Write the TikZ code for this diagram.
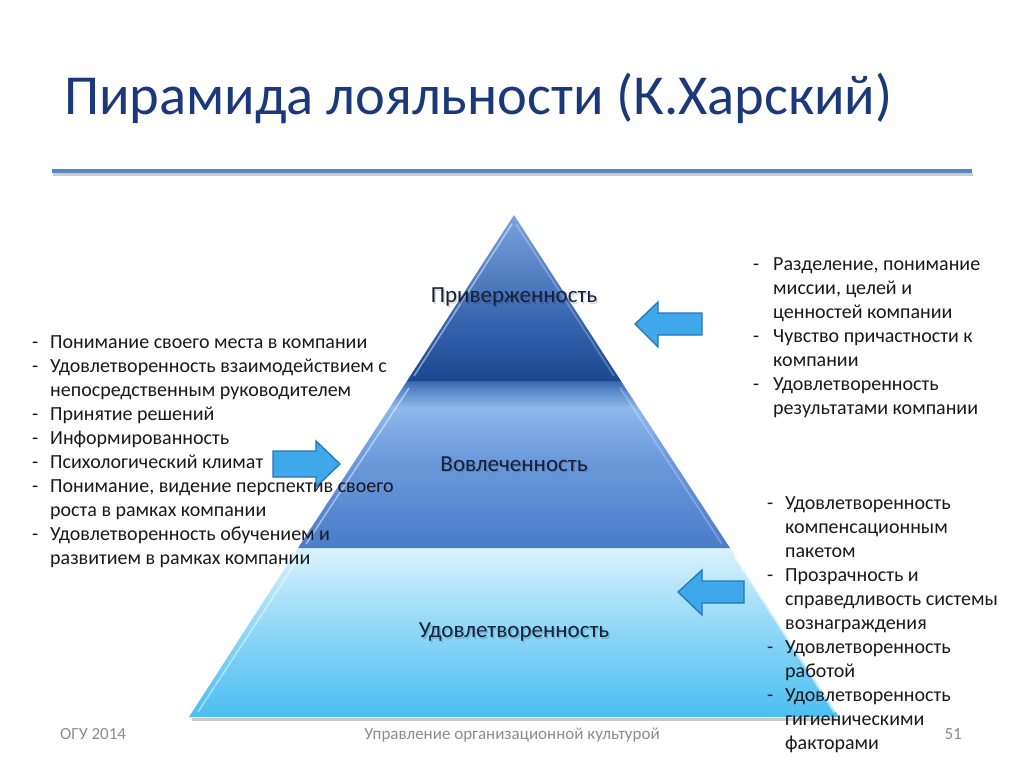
\documentclass[tikz,border=0pt]{standalone}
\usepackage{fontspec}
\setmainfont{Carlito}
\usetikzlibrary{calc}
\definecolor{titleblue}{RGB}{26,56,122}
\definecolor{txt}{RGB}{25,25,25}
\definecolor{lbl}{RGB}{22,32,58}
\definecolor{foot}{RGB}{140,140,140}
\definecolor{rule}{RGB}{88,136,190}
\definecolor{arrfill}{RGB}{62,168,234}
\definecolor{arrdraw}{RGB}{38,118,182}
\definecolor{ta}{RGB}{28,72,145}
\definecolor{tb}{RGB}{52,98,172}
\definecolor{tc}{RGB}{122,162,222}
\definecolor{ua}{RGB}{74,124,200}
\definecolor{ub}{RGB}{108,154,220}
\definecolor{uc}{RGB}{142,184,234}
\definecolor{ud}{RGB}{92,138,204}
\definecolor{ue}{RGB}{58,104,176}
\definecolor{va}{RGB}{76,190,242}
\definecolor{vb}{RGB}{140,214,246}
\definecolor{vc}{RGB}{218,242,252}
\pgfdeclareverticalshading{tierone}{100bp}{color(0bp)=(ta); color(25bp)=(ta); color(42bp)=(tb); color(75bp)=(tc); color(100bp)=(tc)}
\pgfdeclareverticalshading{tiertwo}{100bp}{color(0bp)=(ua); color(25bp)=(ua); color(52bp)=(ub); color(67bp)=(uc); color(72bp)=(ud); color(75bp)=(ue); color(100bp)=(ue)}
\pgfdeclareverticalshading{tierthree}{100bp}{color(0bp)=(va); color(25bp)=(va); color(50bp)=(vb); color(75bp)=(vc); color(100bp)=(vc)}
\tikzset{
  listtext/.style={inner sep=0pt, text=txt, font=\fontsize{20}{24}\selectfont},
  tierlabel/.style={inner sep=0pt, text=lbl, font=\fontsize{23}{27}\selectfont},
  tiershadow/.style={inner sep=0pt, text=black, opacity=.15, font=\fontsize{23}{27}\selectfont},
  footer/.style={inner sep=0pt, text=foot, font=\fontsize{17}{20}\selectfont},
  blockarrow/.style={fill=arrfill, draw=arrdraw, line width=1.3pt, line join=miter},
  glint/.style={draw=white, opacity=.45, line width=1.6pt}
}
\begin{document}
\begin{tikzpicture}[x=1pt,y=-1pt]
\useasboundingbox (0,0) rectangle (1024,768);
\fill[white] (0,0) rectangle (1024,768);
% title
\node[inner sep=0pt, anchor=base west, text=titleblue, font=\fontsize{56.5}{62}\selectfont] (title) at (64,114) {Пирамида лояльности (К.Харский)};
% rule
\draw[black!20, line width=3pt] (53,174) -- (973,174);
\draw[rule, line width=4pt] (52,171) -- (972,171);
% pyramid
\coordinate (apex) at (514,215);
\coordinate (l1) at (407,381);
\coordinate (r1) at (621,381);
\coordinate (l2) at (298,548);
\coordinate (r2) at (730,548);
\coordinate (l3) at (189,717);
\coordinate (r3) at (839,717);
\draw[black!35, line width=2.5pt, opacity=.6] (192,719.5) -- (836,719.5);
\shade[shading=tierthree] (l2) -- (r2) -- (r3) -- (l3) -- cycle;
\shade[shading=tiertwo] (l1) -- (r1) -- (r2) -- (l2) -- cycle;
\shade[shading=tierone] (apex) -- (r1) -- (l1) -- cycle;
\draw[glint] (512,224) -- (414,376);
\draw[glint] (409,388) -- (306,544);
\draw[glint] (300,556) -- (198,712);
\draw[glint, opacity=.6, line width=3pt] (735,556) -- (835,712);
\draw[glint, opacity=.25] (516,224) -- (614,376);
\draw[glint, opacity=.25] (620,388) -- (722,544);
% tier labels
\node[tiershadow] at (515.5,298.5) {Приверженность};
\node[tierlabel] (t1) at (514,297) {Приверженность};
\node[tiershadow] at (515.5,465.5) {Вовлеченность};
\node[tierlabel] (t2) at (514,464) {Вовлеченность};
\node[tiershadow] at (515.5,633.5) {Удовлетворенность};
\node[tierlabel] (t3) at (514,632) {Удовлетворенность};
% arrows
\draw[blockarrow] (273,451) -- (316,451) -- (316,441) -- (340,464) -- (316,487) -- (316,477) -- (273,477) -- cycle;
\draw[blockarrow] (702,313) -- (658,313) -- (658,302) -- (635,324) -- (658,347) -- (658,335) -- (702,335) -- cycle;
\draw[blockarrow] (744,581) -- (702,581) -- (702,570) -- (678,592) -- (702,615) -- (702,603) -- (744,603) -- cycle;
% lists
\node[listtext, anchor=base west] (leftlist) at (32,348) {\begin{tabular}[t]{@{}p{18pt}@{}l@{}}
- & Понимание своего места в компании\\
- & Удовлетворенность взаимодействием с\\
  & непосредственным руководителем\\
- & Принятие решений\\
- & Информированность\\
- & Психологический климат\\
- & Понимание, видение перспектив своего\\
  & роста в рамках компании\\
- & Удовлетворенность обучением и\\
  & развитием в рамках компании
\end{tabular}};
\node[listtext, anchor=base west] (toplist) at (753,270) {\begin{tabular}[t]{@{}p{20pt}@{}l@{}}
- & Разделение, понимание\\
  & миссии, целей и\\
  & ценностей компании\\
- & Чувство причастности к\\
  & компании\\
- & Удовлетворенность\\
  & результатами компании
\end{tabular}};
\node[listtext, anchor=base west] (botlist) at (767,509) {\begin{tabular}[t]{@{}p{18pt}@{}l@{}}
- & Удовлетворенность\\
  & компенсационным\\
  & пакетом\\
- & Прозрачность и\\
  & справедливость системы\\
  & вознаграждения\\
- & Удовлетворенность\\
  & работой\\
- & Удовлетворенность\\
  & гигиеническими\\
  & факторами
\end{tabular}};
% footer
\node[footer, anchor=base west] (f1) at (60,739) {ОГУ 2014};
\node[footer, anchor=base] (f2) at (512,739) {Управление организационной культурой};
\node[footer, anchor=base east] (f3) at (962,739) {51};
\end{tikzpicture}
\end{document}
